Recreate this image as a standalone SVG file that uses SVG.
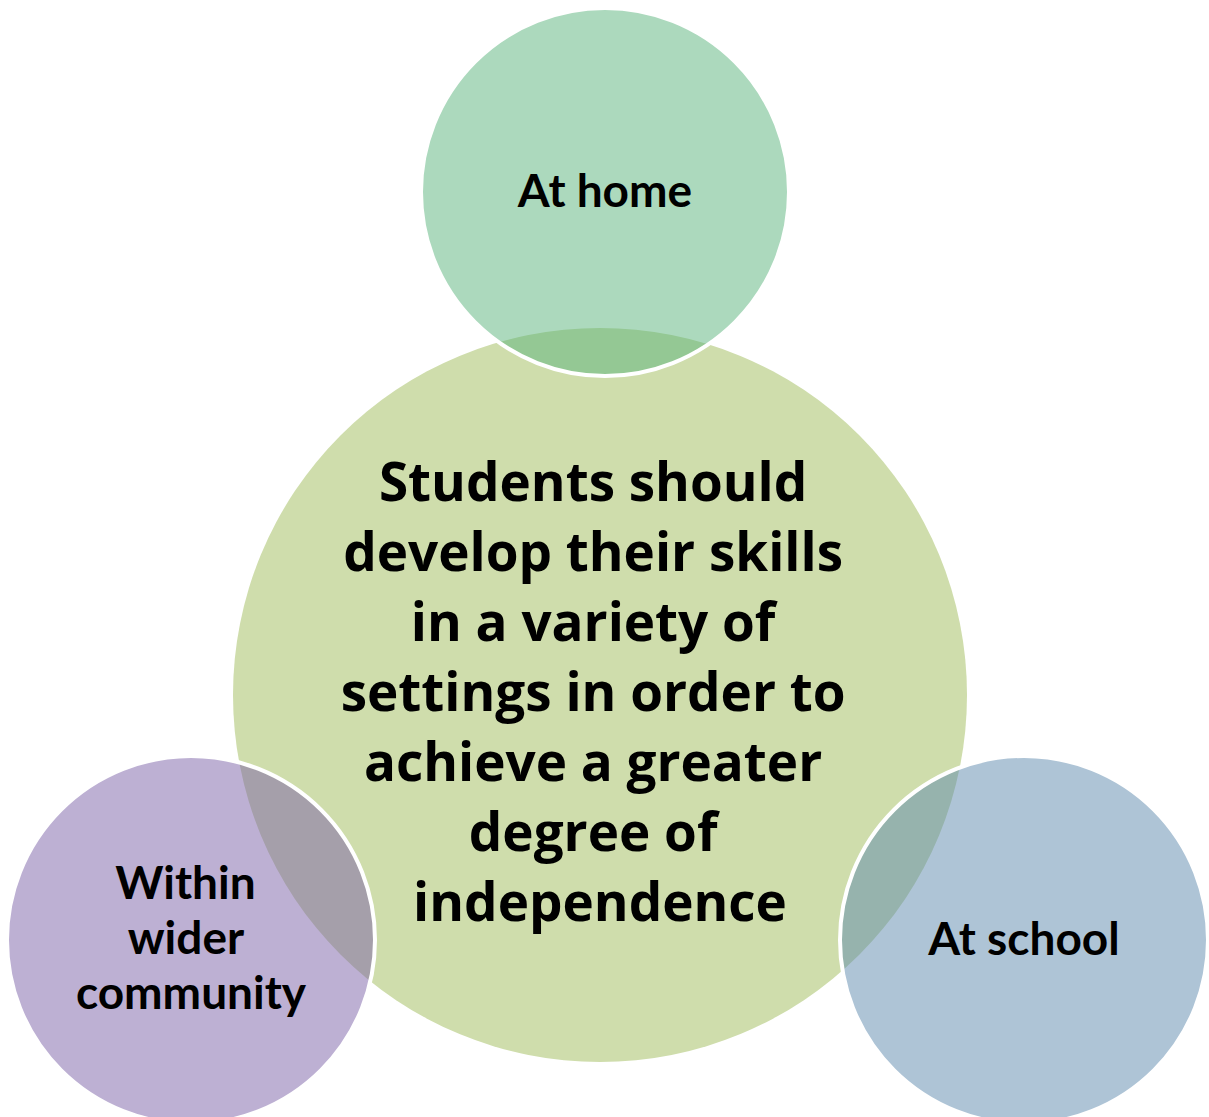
<svg xmlns="http://www.w3.org/2000/svg" width="1209" height="1117" viewBox="0 0 1209 1117">
  <style>
    .label { font-family: Lato, "Open Sans", "Liberation Sans", sans-serif; font-weight: 700; fill: #000; text-anchor: middle; }
    .hub-text { font-family: "Open Sans", Lato, "Liberation Sans", sans-serif; font-size: 53px; }
    .sat-text { font-size: 46px; }
    .sat { stroke: #fff; stroke-width: 4; fill-opacity: 0.5; }
  </style>
  <rect width="1209" height="1117" fill="#fff"/>

  <!-- central circle -->
  <g id="hub">
    <circle cx="600" cy="695" r="367" fill="#cfddac"/>
    <text class="label hub-text">
      <tspan x="600" y="501">Students should</tspan>
      <tspan x="600" y="571">develop their skills</tspan>
      <tspan x="600" y="641">in a variety of</tspan>
      <tspan x="600" y="711">settings in order to</tspan>
      <tspan x="600" y="781">achieve a greater</tspan>
      <tspan x="600" y="851">degree of</tspan>
      <tspan x="600" y="921">independence</tspan>
    </text>
  </g>

  <!-- satellite circles, drawn translucent over the hub -->
  <g id="home">
    <circle class="sat" cx="605" cy="192" r="184" fill="#59b37b"/>
    <text class="label sat-text" x="605" y="207">At home</text>
  </g>

  <g id="community">
    <circle class="sat" cx="191" cy="940" r="184" fill="#7b61a7"/>
    <text class="label sat-text">
      <tspan x="191" y="899">Within</tspan>
      <tspan x="191" y="954">wider</tspan>
      <tspan x="191" y="1009">community</tspan>
    </text>
  </g>

  <g id="school">
    <circle class="sat" cx="1024" cy="940" r="184" fill="#5d89ad"/>
    <text class="label sat-text" x="1024" y="955">At school</text>
  </g>

  <g id="connectors"/>
</svg>
